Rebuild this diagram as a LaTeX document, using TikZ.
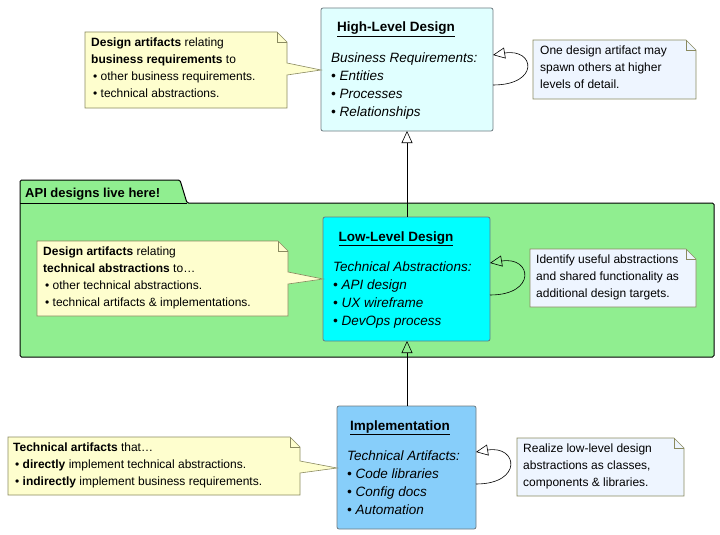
\documentclass[tikz,border=0pt]{standalone}
\usepackage{fontspec}
\setmainfont{Liberation Sans}
\usetikzlibrary{arrows.meta}
\definecolor{hld}{HTML}{E0FFFF}
\definecolor{lld}{HTML}{00FFFF}
\definecolor{impl}{HTML}{87CEFA}
\definecolor{ynote}{HTML}{FEFECE}
\definecolor{bnote}{HTML}{EEF5FF}
\definecolor{pkg}{HTML}{90EE90}
\definecolor{bord}{HTML}{6E7A80}
\definecolor{nbord}{HTML}{8A8A60}
\tikzset{
  box/.style={draw=bord, rounded corners=2pt, line width=0.8pt},
  note/.style={draw=nbord, line width=0.6pt, line join=miter},
  txt/.style={inner sep=0pt, anchor=north west, align=left, font=\fontsize{12}{17}\selectfont},
  btxt/.style={inner sep=0pt, anchor=north west, align=left, font=\fontsize{13.5}{18}\selectfont\itshape},
  ttl/.style={inner sep=0pt, anchor=base, font=\fontsize{13.5}{16}\selectfont\bfseries},
  inh/.style={draw=black, line width=0.6pt, -{Triangle[open,length=12pt,width=11pt]}},
}
\newcommand{\ul}[1]{\underline{#1}}
\begin{document}
\begin{tikzpicture}[x=1pt,y=-1pt]
\useasboundingbox (0,0) rectangle (720,535);
% package
\path[draw=black, fill=pkg, line width=1pt, rounded corners=1.5pt]
  (20,203) -- (20,180) -- (180,180) -- (187,203) -- (714,203) -- (714,357) -- (20,357) -- cycle;
\draw[line width=1pt] (20,203) -- (187,203);
\node[inner sep=0pt, anchor=base west, font=\fontsize{13}{16}\selectfont\bfseries] (pkgl) at (25,197) {API designs live here!};

% boxes
\draw[box, fill=hld] (321,8) rectangle (493,131);
\coordinate (hldT) at (407,8);
\coordinate (hldB) at (407,131);
\node[ttl] (hldt) at (396,32) {\ul{High-Level Design}};
\node[btxt] (hldx) at (331,53) {Business Requirements:\\\textbullet\ Entities\\\textbullet\ Processes\\\textbullet\ Relationships};

\draw[box, fill=lld] (323,217) rectangle (490,341);
\coordinate (lldT) at (407,217);
\coordinate (lldB) at (407,341);
\node[ttl] (lldt) at (396,241) {\ul{Low-Level Design}};
\node[btxt] (lldx) at (333,262) {Technical Abstractions:\\\textbullet\ API design\\\textbullet\ UX wireframe\\\textbullet\ DevOps process};

\draw[box, fill=impl] (337,406) rectangle (476,529);
\coordinate (impT) at (407,406);
\node[ttl] (impt) at (400,430) {\ul{Implementation}};
\node[btxt] (impx) at (347,451) {Technical Artifacts:\\\textbullet\ Code libraries\\\textbullet\ Config docs\\\textbullet\ Automation};

% inheritance arrows
\draw[inh] (impT) -- (lldB);
\draw[inh] (lldT) -- (hldB);

% self loops
\coordinate (h1) at (493,85); \coordinate (h2) at (493,55);
\draw[inh] (h1) .. controls (540,85) and (535,48) .. (h2);
\coordinate (l1) at (490,295); \coordinate (l2) at (490,263);
\draw[inh] (l1) .. controls (537,295) and (532,256) .. (l2);
\coordinate (i1) at (476,484); \coordinate (i2) at (476,452);
\draw[inh] (i1) .. controls (523,484) and (518,445) .. (i2);

% left notes (yellow) with pointer
\draw[note, fill=ynote] (85,32) -- (277,32) -- (287,42) -- (287,63) -- (321,70) -- (287,75) -- (287,108) -- (85,108) -- cycle;
\draw[note] (277,32) -- (277,42) -- (287,42);
\node[txt] (n1) at (91,38) {\textbf{Design artifacts} relating\\\textbf{business requirements} to\\\,\textbullet\ other business requirements.\\\,\textbullet\ technical abstractions.};

\draw[note, fill=ynote] (37,241) -- (278,241) -- (288,251) -- (288,272) -- (323,279) -- (288,284) -- (288,316) -- (37,316) -- cycle;
\draw[note] (278,241) -- (278,251) -- (288,251);
\node[txt] (n2) at (43,247) {\textbf{Design artifacts} relating\\\textbf{technical abstractions} to\dots\\\,\textbullet\ other technical abstractions.\\\,\textbullet\ technical artifacts \& implementations.};

\draw[note, fill=ynote] (8,437) -- (290,437) -- (300,447) -- (300,461) -- (337,468) -- (300,473) -- (300,495) -- (8,495) -- cycle;
\draw[note] (290,437) -- (290,447) -- (300,447);
\node[txt] (n3) at (13,443) {\textbf{Technical artifacts} that\dots\\\,\textbullet\ \textbf{directly} implement technical abstractions.\\\,\textbullet\ \textbf{indirectly} implement business requirements.};

% right notes (blue)
\draw[note, fill=bnote] (533,40) -- (686,40) -- (696,50) -- (696,99) -- (533,99) -- cycle;
\draw[note] (686,40) -- (686,50) -- (696,50);
\node[txt] (r1) at (540,46) {One design artifact may\\spawn others at higher\\levels of detail.};

\draw[note, fill=bnote] (530,249) -- (686,249) -- (696,259) -- (696,307) -- (530,307) -- cycle;
\draw[note] (686,249) -- (686,259) -- (696,259);
\node[txt] (r2) at (536,255) {Identify useful abstractions\\and shared functionality as\\additional design targets.};

\draw[note, fill=bnote] (517,438) -- (674,438) -- (684,448) -- (684,496) -- (517,496) -- cycle;
\draw[note] (674,438) -- (674,448) -- (684,448);
\node[txt] (r3) at (523,444) {Realize low-level design\\abstractions as classes,\\components \& libraries.};
\end{tikzpicture}
\end{document}
